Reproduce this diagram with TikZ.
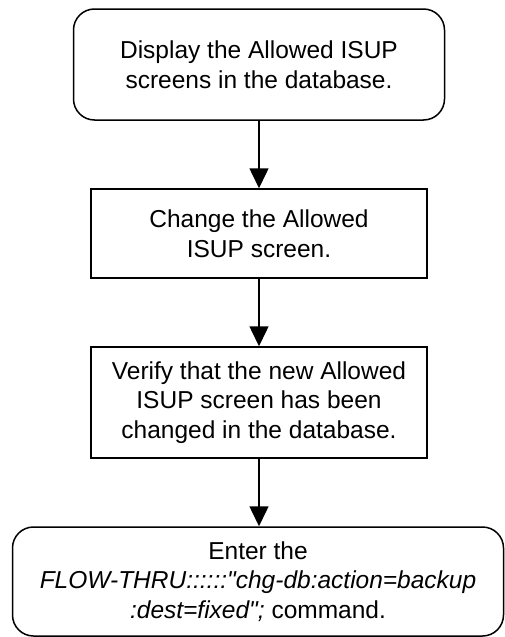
\documentclass[tikz,border=0pt]{standalone}
\usepackage{fontspec}
\setmainfont{Liberation Sans}[Ligatures=TeXOff]
\usetikzlibrary{arrows.meta}
\begin{document}
\begin{tikzpicture}[x=1pt,y=-1pt,
  box/.style={draw, line width=1.5pt, align=center, inner sep=0pt,
    font=\fontsize{24.5}{29.5}\selectfont},
  term/.style={box, rounded corners=21pt},
  flow/.style={line width=1.5pt, -{Triangle[width=19pt,length=20pt]}}]
\useasboundingbox (0,0) rectangle (505,637);
\node[term, minimum width=371pt, minimum height=111pt] (a) at (259,64.5)
  {Display the Allowed ISUP\\screens in the database.};
\node[box, minimum width=336pt, minimum height=89pt] (b) at (259,233.5)
  {Change the Allowed\\ISUP screen.};
\node[box, minimum width=336pt, minimum height=111pt] (c) at (259,402.5)
  {Verify that the new Allowed\\ISUP screen has been\\changed in the database.};
\node[term, minimum width=491pt, minimum height=109pt] (d) at (258,581.5)
  {Enter the\\\textit{FLOW-THRU::::::"chg-db:action=backup}\\\textit{:dest=fixed";} command.};
\draw[flow] (a) -- (b);
\draw[flow] (b) -- (c);
\draw[flow] (c) -- (c |- d.north);
\end{tikzpicture}
\end{document}
